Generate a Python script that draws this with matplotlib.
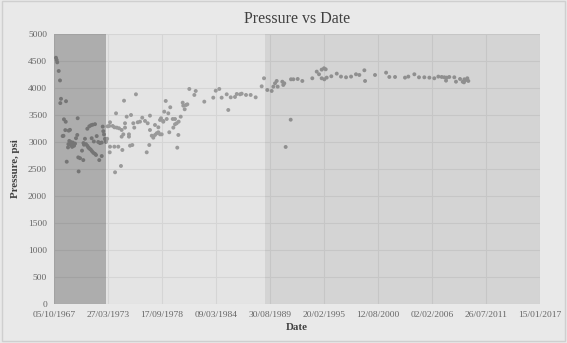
import numpy as np
import pandas as pd
import matplotlib
matplotlib.use('Agg')
import matplotlib.pyplot as plt
import matplotlib.dates as mdates
from matplotlib.patches import Rectangle

# readings, decimal year and pressure (psi)
years = [
    1967.96, 1968.03, 1968.09, 1968.24, 1968.37, 1968.47, 1968.40, 1968.98,
    1968.77, 1968.95, 1970.16, 1968.64, 1968.72, 1968.91, 1969.25, 1969.38,
    1969.05, 1969.18, 1969.31, 1969.43, 1969.53, 1969.66, 1969.79, 1969.89,
    1969.99, 1970.12, 1969.22, 1969.45, 1969.60, 1969.72,
    1970.22, 1970.40, 1970.73, 1970.26, 1970.60,
    1970.90, 1970.75, 1970.80, 1971.00, 1971.14, 1971.24, 1971.34, 1971.48,
    1971.61, 1971.75, 1971.92,
    1971.14, 1971.34, 1971.51, 1971.68, 1971.92,
    1971.58, 1971.80, 1972.09, 1972.25, 1972.42, 1972.60,
    1972.02, 1972.35, 1972.60,
    1972.70, 1972.76, 1972.83, 1972.93, 1973.00, 1973.03,
    # 1973 - 1989
    1973.15, 1973.20, 1973.44, 1973.37, 1973.71, 1973.88, 1974.12, 1974.35, 1974.62,
    1974.05, 1974.86, 1976.07, 1975.13, 1975.57, 1974.96, 1974.96,
    1975.80, 1976.25, 1976.48, 1976.71, 1976.99, 1977.26,
    1973.44, 1973.88, 1974.28, 1974.69, 1973.41,
    1975.36, 1975.36, 1974.62, 1974.79, 1975.47, 1975.70, 1975.90,
    1977.49, 1978.00, 1978.34, 1978.51, 1978.84, 1978.94,
    1977.49, 1977.67, 1977.83, 1978.00, 1978.17, 1978.34, 1978.51,
    1977.42, 1977.16, 1974.55, 1973.95,
    1979.09, 1979.55, 1979.35, 1978.61, 1978.84, 1979.19, 1978.68, 1979.45,
    1979.86, 1980.03, 1980.20, 1980.40, 1980.61, 1979.80, 1980.03, 1980.37, 1980.26,
    1980.81, 1980.87, 1981.14, 1981.28, 1981.01, 1981.48, 1981.99, 1982.13,
    1983.00, 1983.91, 1984.16, 1984.52,
    1984.76, 1985.27, 1985.43, 1985.68, 1986.11, 1986.29, 1986.62, 1986.79,
    1987.23, 1987.70, 1988.21, 1988.82,
    # 1989 onwards
    1989.05, 1989.39, 1989.83, 1990.00, 1990.17, 1990.34, 1990.44,
    1990.91, 1991.01, 1991.11, 1991.79, 1992.03, 1992.47, 1992.94,
    1991.76, 1991.25, 1993.95, 1994.40, 1994.63, 1994.90, 1995.14, 1995.31,
    1994.90, 1995.17, 1995.41, 1995.88,
    1996.43, 1996.86, 1997.37, 1997.88, 1998.38, 1998.72, 1999.23, 1999.30,
    2000.31, 2001.43, 2001.76, 2002.34,
    2003.35, 2003.69, 2004.30, 2004.77, 2005.31, 2005.82, 2006.32, 2006.73,
    2007.07, 2007.34, 2007.58, 2007.84, 2007.51, 2008.35, 2008.52, 2008.93,
    2009.20, 2009.33, 2009.51, 2009.67, 2009.77, 2009.37,
]
psi = [
    4560, 4520, 4475, 4315, 4140, 3800, 3720, 3755,
    3420, 3375, 3440, 3110, 3115, 3220, 3210, 3225,
    2635, 2900, 3020, 2960, 2940, 2990, 2930, 2970,
    3070, 3130, 2960, 3000, 2910, 2950,
    2715, 2700, 2665, 2455, 2840,
    3060, 2980, 2950, 2960, 2930, 2900, 2880, 2860,
    2830, 2800, 2780,
    3245, 3290, 3310, 3320, 3330,
    3070, 3010, 3110, 3000, 2980, 2990,
    2760, 2665, 2740,
    3285, 3200, 3140, 3060, 3030, 3000,
    3060, 3290, 3365, 3297, 3297, 3272, 3266, 3254, 3223,
    3531, 3765, 3883, 3469, 3500, 3347, 3266,
    3347, 3365, 3377, 3450, 3390, 3347,
    2913, 2913, 2913, 2852, 2809,
    3142, 3099, 3099, 3142, 2932, 2944, 3266,
    3488, 3315, 3272, 3408, 3376, 3562,
    3222, 3117, 3080, 3130, 3161, 3180, 3142,
    2944, 2809, 2556, 2439,
    3760, 3643, 3531, 3439, 3389, 3426, 3142, 3180,
    3266, 3328, 3347, 3377, 3469, 3426, 3426, 3130, 2895,
    3728, 3673, 3685, 3698, 3606, 3982, 3871, 3945,
    3747, 3821, 3950, 3982,
    3821, 3883, 3593, 3827, 3834, 3889, 3883, 3895,
    3871, 3871, 3827, 4031,
    4180, 3963, 3945, 4025, 4087, 4130, 4025,
    4117, 4056, 4087, 4161, 4161, 4167, 4130,
    3413, 2908, 4180, 4303, 4254, 4340, 4365, 4346,
    4180, 4161, 4192, 4217,
    4266, 4211, 4198, 4211, 4254, 4241, 4328, 4130,
    4241, 4284, 4204, 4204,
    4192, 4211, 4254, 4198, 4198, 4192, 4180, 4211,
    4204, 4198, 4192, 4204, 4136, 4198, 4117, 4167,
    4117, 4105, 4148, 4180, 4130, 4161,
]

tick_start = pd.Timestamp('1967-10-05')
tick_step_days = 2000
n_ticks = 10
band1 = (pd.Timestamp('1967-10-05'), pd.Timestamp('1973-01-30'))
band2 = (pd.Timestamp('1989-03-01'), pd.Timestamp('2017-01-15'))


def to_date(y):
    yr = int(np.floor(y))
    return pd.Timestamp(yr, 1, 1) + pd.Timedelta(days=(y - yr) * 365.25)


dates = [to_date(y) for y in years]
ticks = [tick_start + pd.Timedelta(days=tick_step_days * i) for i in range(n_ticks)]

plt.rcParams['font.family'] = ['Liberation Serif', 'DejaVu Serif']

fig = plt.figure(figsize=(5.67, 3.43), dpi=100, facecolor='#e9e9e9')
fig.patches.append(Rectangle((0.003, 0.006), 0.994, 0.99, transform=fig.transFigure,
                             fill=False, edgecolor='#cfcfcf', lw=1))
ax = fig.add_axes([0.0952, 0.1137, 0.8572, 0.7872])
ax.set_facecolor('#e4e4e4')

ax.scatter(dates, psi, s=8, color='#9a9a9a', edgecolors='none', zorder=3)
ax.axvspan(band1[0], band1[1], color='black', alpha=0.24, lw=0, zorder=4)
ax.axvspan(band2[0], band2[1], color='black', alpha=0.065, lw=0, zorder=4)

ax.set_xlim(ticks[0], ticks[-1])
ax.set_ylim(0, 5000)
ax.set_xticks(ticks)
ax.xaxis.set_major_formatter(mdates.DateFormatter('%d/%m/%Y'))
ax.set_yticks(range(0, 5001, 500))
ax.grid(True, color='#d5d5d5', lw=0.8, zorder=1)
ax.set_axisbelow(True)
for s in ax.spines.values():
    s.set_visible(False)
ax.tick_params(length=0, labelsize=6.8, colors='#666666', pad=5)

ax.set_title('Pressure vs Date', fontsize=11.5, color='#404040', pad=8)
ax.set_xlabel('Date', fontsize=7.8, fontweight='bold', color='#404040', labelpad=3)
ax.set_ylabel('Pressure, psi', fontsize=7.8, fontweight='bold', color='#404040', labelpad=6)

fig.savefig('out.png', dpi=100, facecolor=fig.get_facecolor())
